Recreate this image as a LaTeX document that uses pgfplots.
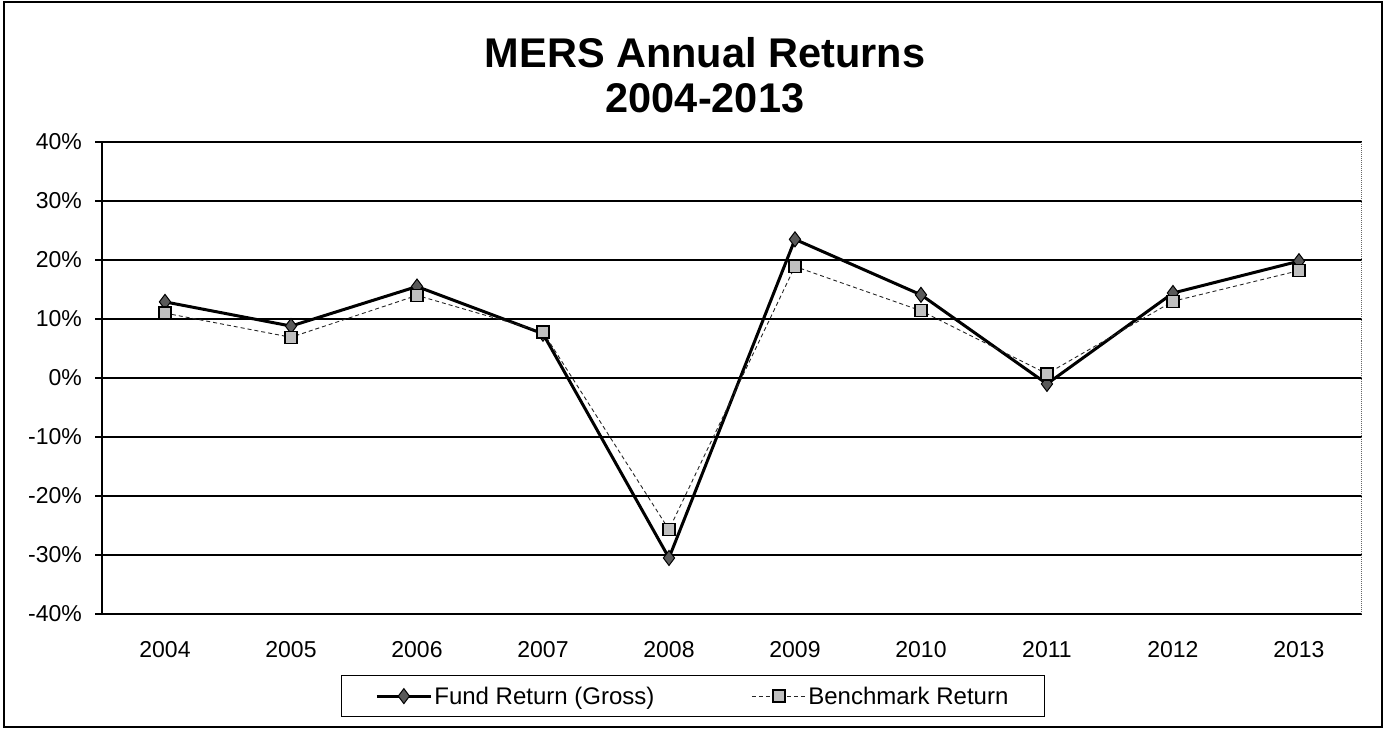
\documentclass[border=0pt]{standalone}
\usepackage{fontspec}
\setmainfont{Liberation Sans}
\usepackage{pgfplots}
\pgfplotsset{compat=1.18}
\begin{document}
\begin{tikzpicture}[x=1bp,y=1bp]
\useasboundingbox (0,0) rectangle (1388,728);
\draw[line width=1.5bp] (4,1) rectangle (1382,726);
\node[font=\fontsize{41.5bp}{45bp}\selectfont\bfseries, align=center, inner sep=0pt] at (705,653) {MERS Annual Returns\\2004-2013};
\begin{axis}[
 at={(102bp,114bp)}, anchor=south west, scale only axis,
 width=1260bp, height=472bp,
 xmin=-0.5, xmax=9.5, ymin=-40, ymax=40,
 axis y line*=left, axis x line*=bottom,
 axis line style={line width=1.5bp, -},
 xtick={0,1,2,3,4,5,6,7,8,9},
 xticklabels={2004,2005,2006,2007,2008,2009,2010,2011,2012,2013},
 xtick style={draw=none},
 ytick={-40,-30,-20,-10,0,10,20,30,40},
 yticklabels={-40\%,-30\%,-20\%,-10\%,0\%,10\%,20\%,30\%,40\%},
 tick align=outside, major tick length=7bp,
 ytick style={black, line width=1.2bp},
 ymajorgrids, major grid style={black, line width=1.5bp},
 tick label style={font=\fontsize{23bp}{27bp}\selectfont},
 yticklabel style={inner sep=0pt, anchor=east, xshift=-13bp},
 xticklabel style={inner sep=0pt, anchor=north, yshift=-20bp},
 legend columns=2,
 legend style={at={(0.469,-0.174)}, anchor=center, draw=black, line width=1.5bp,
   font=\fontsize{24bp}{28bp}\selectfont, inner xsep=34bp, inner ysep=9bp,
   /tikz/every even column/.append style={column sep=95bp}},
 legend image code/.code={\draw[mark repeat=2, mark phase=2] plot coordinates {(0bp,0bp) (27bp,0bp) (54bp,0bp)};},
 clip=false,
]
\addplot[black, line width=3bp, mark=diamond*, mark size=7.5bp,
  mark options={fill=black!65, draw=black, line width=1bp, solid},
  legend image post style={line width=3bp}]
  coordinates {(0,12.9)(1,8.8)(2,15.5)(3,7.5)(4,-30.5)(5,23.5)(6,14.1)(7,-1.0)(8,14.4)(9,19.8)};
\addlegendentry{Fund Return (Gross)}
\addplot[black!85, line width=0.9bp, dash pattern=on 4bp off 3bp, mark=square*, mark size=6bp,
  mark options={fill=black!25, draw=black, line width=1.3bp, solid},
  legend image post style={line width=0.9bp}]
  coordinates {(0,11.0)(1,6.9)(2,14.0)(3,7.8)(4,-25.7)(5,18.9)(6,11.4)(7,0.7)(8,13.0)(9,18.2)};
\addlegendentry{Benchmark Return}
\draw[black!60, densely dotted, line width=1bp] (rel axis cs:1,0) -- (rel axis cs:1,1);
\end{axis}
\end{tikzpicture}
\end{document}
